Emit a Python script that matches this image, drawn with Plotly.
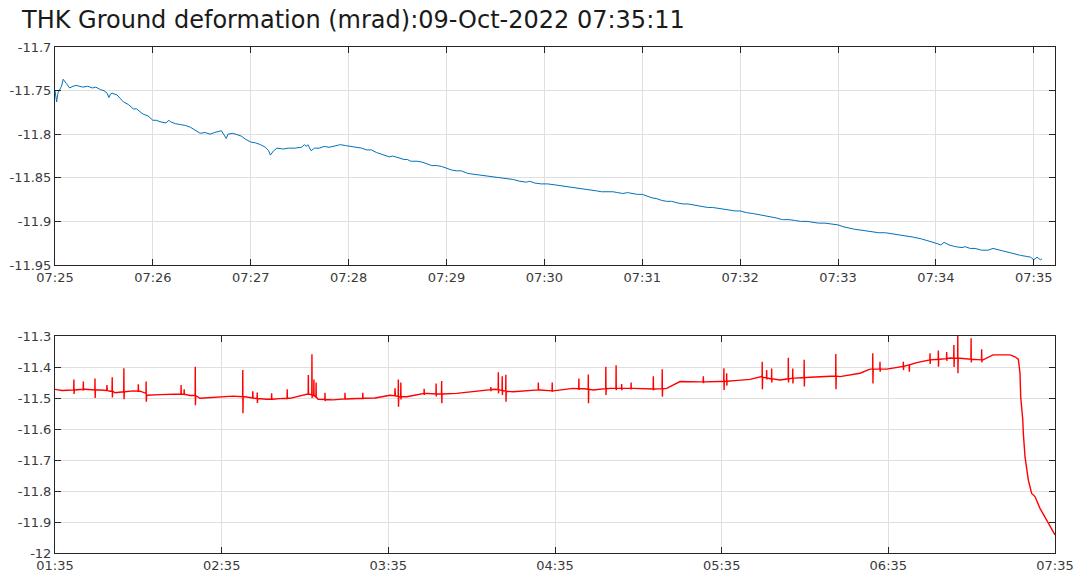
import pandas as pd
import plotly.graph_objects as go

# ---------------- data ----------------
TITLE = "THK Ground deformation (mrad):09-Oct-2022 07:35:11"

# top panel: seconds after 07:25:00 and tilt value
top_seconds = [0, 1, 1.5, 2, 4, 5, 7, 9, 11, 13, 17, 20, 23, 25, 28, 30, 32, 33, 34, 35,
               38, 40, 42, 45, 48, 50, 54, 57, 60, 62, 65, 68, 70, 71, 74, 77, 80, 83, 86, 89,
               92, 95, 98, 102, 105, 106, 109, 111, 114, 117, 120, 123, 126, 129, 131, 132, 134, 136, 140, 143,
               147, 151, 153, 154, 155, 157, 159, 162, 165, 168, 172, 175, 178, 182, 185, 188, 191, 194, 197, 200,
               203, 205, 207, 210, 214, 216, 218, 222, 225, 228, 231, 234, 237, 240, 243, 246, 249, 253, 257, 260,
               264, 268, 271, 274, 278, 281, 285, 289, 291, 294, 298, 302, 306, 310, 315, 318, 322, 326, 329, 332,
               335, 338, 342, 345, 348, 351, 354, 357, 360, 363, 366, 369, 372, 375, 378, 382, 385, 388, 391, 394,
               397, 400, 403, 406, 409, 413, 417, 420, 424, 428, 431, 435, 439, 442, 446, 450, 454, 457, 461, 465,
               468, 472, 476, 480, 483, 487, 490, 494, 498, 502, 505, 509, 513, 516, 520, 526, 531, 535, 540, 543,
               545, 548, 552, 556, 558, 561, 564, 568, 572, 575, 577, 582, 585, 588, 592, 595, 598, 600, 602, 604, 605]
top_values = [-11.750, -11.763, -11.756, -11.752, -11.745, -11.737, -11.742, -11.747, -11.745, -11.744,
              -11.746, -11.745, -11.747, -11.746, -11.749, -11.750, -11.753, -11.758, -11.754, -11.753,
              -11.755, -11.759, -11.763, -11.766, -11.771, -11.771, -11.777, -11.779, -11.784, -11.784,
              -11.786, -11.787, -11.784, -11.786, -11.788, -11.789, -11.790, -11.792, -11.796, -11.799,
              -11.798, -11.800, -11.798, -11.796, -11.805, -11.800, -11.799, -11.800, -11.802, -11.806,
              -11.809, -11.810, -11.812, -11.815, -11.819, -11.824, -11.819, -11.816, -11.817, -11.816,
              -11.816, -11.815, -11.812, -11.814, -11.812, -11.819, -11.816, -11.816, -11.814, -11.815,
              -11.813, -11.812, -11.813, -11.814, -11.815, -11.816, -11.818, -11.818, -11.821, -11.823,
              -11.825, -11.826, -11.825, -11.827, -11.829, -11.829, -11.831, -11.831, -11.832, -11.834,
              -11.836, -11.836, -11.837, -11.839, -11.841, -11.842, -11.842, -11.845, -11.846, -11.847,
              -11.848, -11.849, -11.850, -11.851, -11.852, -11.852, -11.854, -11.855, -11.854, -11.856,
              -11.857, -11.857, -11.858, -11.859, -11.860, -11.861, -11.862, -11.863, -11.864, -11.865,
              -11.866, -11.866, -11.866, -11.867, -11.868, -11.867, -11.868, -11.869, -11.869, -11.871,
              -11.873, -11.874, -11.876, -11.877, -11.877, -11.879, -11.880, -11.880, -11.881, -11.882,
              -11.883, -11.884, -11.884, -11.885, -11.886, -11.887, -11.888, -11.888, -11.890, -11.891,
              -11.892, -11.894, -11.895, -11.896, -11.898, -11.898, -11.899, -11.900, -11.900, -11.901,
              -11.902, -11.902, -11.903, -11.904, -11.906, -11.908, -11.909, -11.910, -11.911, -11.912,
              -11.913, -11.913, -11.914, -11.915, -11.916, -11.918, -11.920, -11.922, -11.925, -11.927,
              -11.924, -11.927, -11.929, -11.930, -11.929, -11.931, -11.931, -11.933, -11.933, -11.931,
              -11.932, -11.934, -11.936, -11.937, -11.939, -11.940, -11.941, -11.944, -11.941, -11.944, -11.943]

# bottom panel: minutes after 01:35:00 (slow baseline)
bot_base_minutes = [0, 2.5, 6.5, 10.8, 16.2, 19.8, 21.6, 25.2, 28.1, 30.6, 33.0, 37.8, 45.0, 48.6, 52.2,
                    57.6, 64.1, 68.4, 71.3, 76.2, 81.0, 84.6, 90.6, 94.7, 100.1, 104.8, 109.8, 115.2, 120.6,
                    126.6, 132.5, 138.6, 144.6, 150.5, 155.5, 158.4, 164.9, 174.6, 179.3, 186.5, 190.8, 193.7,
                    199.8, 208.1, 214.2, 220.2, 223.2, 225.0, 232.2, 239.4, 244.8, 250.2, 254.4, 257.4, 261.0,
                    266.4, 271.8, 280.1, 282.6, 289.8, 293.4, 299.4, 304.2, 310.2, 314.5, 318.6, 322.2, 325.8,
                    329.4, 334.1, 337.7, 343.8, 345.6, 346.8, 347.4, 347.65, 348.0, 348.4, 348.6, 349.2, 350.4,
                    351.6, 352.8, 354.6, 357.0, 360.0]
bot_base_values = [-11.472, -11.476, -11.474, -11.472, -11.474, -11.478, -11.483, -11.480, -11.477, -11.478,
                   -11.491, -11.489, -11.487, -11.492, -11.501, -11.497, -11.494, -11.496, -11.501, -11.504,
                   -11.502, -11.501, -11.487, -11.504, -11.506, -11.503, -11.501, -11.500, -11.491, -11.496,
                   -11.485, -11.487, -11.485, -11.480, -11.474, -11.472, -11.480, -11.474, -11.477, -11.469,
                   -11.470, -11.474, -11.469, -11.469, -11.471, -11.469, -11.456, -11.447, -11.448, -11.447,
                   -11.444, -11.440, -11.431, -11.438, -11.442, -11.436, -11.433, -11.428, -11.431, -11.420,
                   -11.407, -11.407, -11.399, -11.386, -11.377, -11.375, -11.371, -11.372, -11.375, -11.377,
                   -11.361, -11.361, -11.367, -11.375, -11.420, -11.496, -11.528, -11.571, -11.614, -11.689,
                   -11.765, -11.808, -11.818, -11.856, -11.894, -11.942]

# bottom panel: short spikes (minute, baseline level, peak value, rebound value)
spike_minutes = [6.8, 10.2, 14.4, 18.7, 20.6, 24.8, 30.0, 32.8, 45.4, 46.5, 50.5, 67.6, 71.2, 72.8, 78.0,
                 83.6, 91.2, 92.5, 93.2, 94.0, 97.2, 104.4, 110.8, 122.4, 123.6, 124.5, 132.9, 137.2, 139.2,
                 156.9, 159.6, 161.0, 162.3, 174.0, 179.0, 188.6, 192.0, 198.3, 202.0, 204.0, 207.4, 215.4,
                 218.6, 233.4, 240.8, 241.8, 254.6, 256.2, 258.0, 264.0, 265.6, 269.7, 281.1, 294.4, 297.0,
                 305.4, 307.5, 315.0, 318.0, 321.0, 323.6, 325.0, 329.8, 333.6]
spike_base = [-11.474, -11.472, -11.474, -11.476, -11.478, -11.480, -11.478, -11.485, -11.487, -11.488,
              -11.492, -11.496, -11.500, -11.502, -11.504, -11.501, -11.487, -11.490, -11.492, -11.498,
              -11.505, -11.503, -11.501, -11.493, -11.495, -11.496, -11.485, -11.487, -11.487, -11.473,
              -11.473, -11.476, -11.478, -11.474, -11.477, -11.470, -11.472, -11.470, -11.469, -11.469,
              -11.469, -11.471, -11.470, -11.448, -11.447, -11.446, -11.433, -11.435, -11.438, -11.438,
              -11.436, -11.434, -11.429, -11.407, -11.407, -11.398, -11.393, -11.377, -11.375, -11.373,
              -11.372, -11.372, -11.375, -11.377]
spike_hi = [-11.440, -11.447, -11.437, -11.458, -11.433, -11.404, -11.456, -11.447, -11.458, -11.472,
            -11.399, -11.410, -11.478, -11.482, -11.485, -11.472, -11.426, -11.359, -11.440, -11.450,
            -11.483, -11.483, -11.483, -11.469, -11.440, -11.450, -11.470, -11.453, -11.445, -11.465,
            -11.417, -11.430, -11.425, -11.450, -11.450, -11.437, -11.424, -11.399, -11.394, -11.455,
            -11.450, -11.430, -11.407, -11.430, -11.404, -11.420, -11.383, -11.410, -11.405, -11.370,
            -11.405, -11.377, -11.358, -11.356, -11.383, -11.383, -11.393, -11.356, -11.347, -11.352,
            -11.329, -11.300, -11.307, -11.343]
spike_lo = [-11.487, -11.476, -11.500, -11.476, -11.498, -11.504, -11.479, -11.512, -11.488, -11.490,
            -11.523, -11.549, -11.500, -11.516, -11.506, -11.503, -11.490, -11.500, -11.495, -11.500,
            -11.510, -11.505, -11.503, -11.490, -11.528, -11.505, -11.490, -11.495, -11.517, -11.478,
            -11.485, -11.490, -11.512, -11.476, -11.478, -11.474, -11.517, -11.490, -11.475, -11.475,
            -11.472, -11.475, -11.496, -11.452, -11.474, -11.460, -11.472, -11.440, -11.450, -11.450,
            -11.453, -11.463, -11.472, -11.453, -11.415, -11.410, -11.415, -11.390, -11.399, -11.380,
            -11.400, -11.420, -11.385, -11.385]

top_yticks = [-11.95, -11.9, -11.85, -11.8, -11.75, -11.7]
bot_yticks = [-12, -11.9, -11.8, -11.7, -11.6, -11.5, -11.4, -11.3]

# ---------------- build series ----------------
t0_top = pd.Timestamp("2022-10-09 07:25:00")
top_x = [t0_top + pd.Timedelta(seconds=s) for s in top_seconds]

t0_bot = pd.Timestamp("2022-10-09 01:35:00")
pts = list(zip(bot_base_minutes, bot_base_values))
for m, b, hi, lo in zip(spike_minutes, spike_base, spike_hi, spike_lo):
    pts.append((m - 0.06, b))
    pts.append((m, hi))
    pts.append((m + 0.06, lo))
    pts.append((m + 0.15, b))
pts.sort(key=lambda p: p[0])
bot_x = [t0_bot + pd.Timedelta(minutes=p[0]) for p in pts]
bot_y = [p[1] for p in pts]

W, H = 1074, 573

fig = go.Figure()
fig.add_trace(go.Scatter(x=top_x, y=top_values, mode="lines",
                         line=dict(color="#0072BD", width=1), xaxis="x", yaxis="y", showlegend=False))
fig.add_trace(go.Scatter(x=bot_x, y=bot_y, mode="lines",
                         line=dict(color="#FF0000", width=1.4), xaxis="x2", yaxis="y2", showlegend=False))

axis_common = dict(showline=True, linecolor="#262626", linewidth=1, mirror="ticks",
                   ticks="inside", ticklen=6, tickcolor="#262626", showgrid=True,
                   gridcolor="#dfdfdf", gridwidth=1, zeroline=False, automargin=False,
                   tickfont=dict(family="DejaVu Sans", size=13, color="#3a3a3a"))


def px_x(a, b):
    return [a / W, b / W]


def px_y(top, bottom):
    return [1 - bottom / H, 1 - top / H]


xd = px_x(55, 1055)
fig.update_layout(
    width=W, height=H, margin=dict(l=0, r=0, t=0, b=0, autoexpand=False),
    paper_bgcolor="white", plot_bgcolor="white",
    title=dict(text=TITLE, x=22 / W, xanchor="left", y=1 - 20 / H, yanchor="middle",
               pad=dict(l=0, r=0, t=0, b=0),
               font=dict(family="DejaVu Sans", size=24, color="#1a1a1a")),
    xaxis=dict(domain=xd, anchor="y", type="date",
               range=["2022-10-09 07:25:00", "2022-10-09 07:35:13"],
               tick0="2022-10-09 07:25:00", dtick=60000, tickformat="%H:%M", **axis_common),
    yaxis=dict(domain=px_y(47, 265), anchor="x", range=[-11.95, -11.7],
               tickvals=top_yticks, ticktext=[f"{v:g}" for v in top_yticks], **axis_common),
    xaxis2=dict(domain=xd, anchor="y2", type="date",
                range=["2022-10-09 01:35:00", "2022-10-09 07:35:00"],
                tick0="2022-10-09 01:35:00", dtick=3600000, tickformat="%H:%M",
                ticklabeloverflow="allow", **axis_common),
    yaxis2=dict(domain=px_y(336, 553), anchor="x2", range=[-12, -11.3],
                tickvals=bot_yticks, ticktext=[f"{v:g}" for v in bot_yticks], **axis_common),
)

# remove the page's default 8px body margin so the figure fills the window exactly
fig.write_html("out.html", config={"displayModeBar": False},
               post_script="document.body.style.margin='0';document.body.style.overflow='hidden';")
